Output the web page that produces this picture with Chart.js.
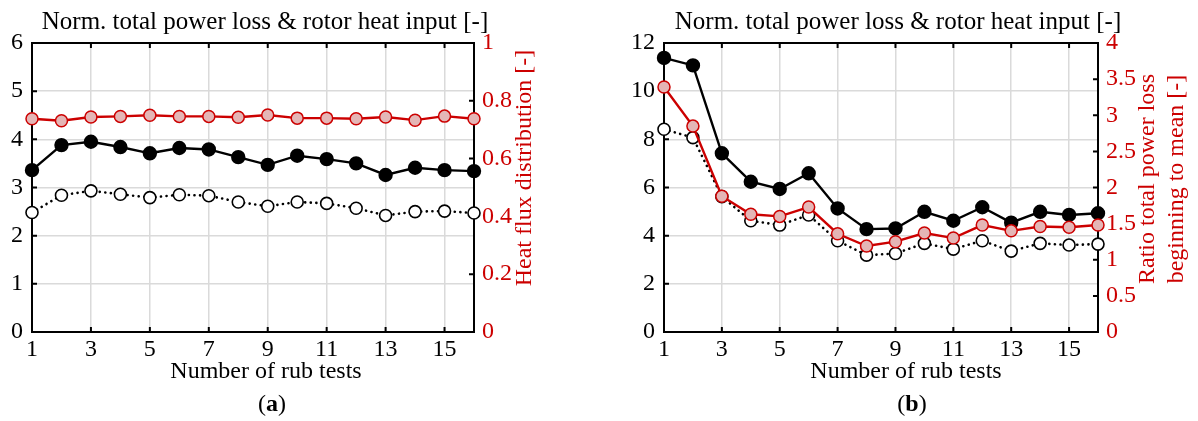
<!DOCTYPE html>
<html>
<head>
<meta charset="utf-8">
<script src="https://cdn.jsdelivr.net/npm/chart.js@4.4.1/dist/chart.umd.min.js"></script>
<style>
  body { margin: 0; background: #fff; }
  #wrap { position: relative; width: 1198px; height: 421px; }
  canvas { position: absolute; top: 0; }
</style>
</head>
<body>
<div id="wrap">
  <canvas id="chartA" width="600" height="421" style="left:0"></canvas>
  <canvas id="chartB" width="598" height="421" style="left:600px"></canvas>
</div>
<script>
// rub test number on the x axis
const rubTests = [1, 2, 3, 4, 5, 6, 7, 8, 9, 10, 11, 12, 13, 14, 15, 16]
const xTicks = [1, 3, 5, 7, 9, 11, 13, 15]

// (a) normalised total power loss, rotor heat input, heat flux distribution
const lossA = [3.36, 3.88, 3.95, 3.84, 3.71, 3.82, 3.79, 3.63, 3.47, 3.66, 3.59, 3.50, 3.26, 3.41, 3.36, 3.34]
const heatA = [2.48, 2.84, 2.93, 2.86, 2.79, 2.85, 2.83, 2.70, 2.61, 2.70, 2.67, 2.57, 2.42, 2.50, 2.51, 2.47]
const fluxA = [0.738, 0.731, 0.744, 0.746, 0.750, 0.746, 0.746, 0.743, 0.751, 0.740, 0.740, 0.738, 0.744, 0.733, 0.747, 0.738]
const yTicksA = [0, 1, 2, 3, 4, 5, 6]
const y2TicksA = [0, 0.2, 0.4, 0.6, 0.8, 1]

// (b) normalised total power loss, rotor heat input, ratio beginning to mean
const lossB = [11.38, 11.07, 7.42, 6.24, 5.94, 6.59, 5.13, 4.27, 4.30, 4.99, 4.62, 5.18, 4.54, 4.99, 4.86, 4.93]
const heatB = [8.42, 8.07, 5.62, 4.62, 4.44, 4.86, 3.79, 3.19, 3.26, 3.68, 3.44, 3.79, 3.36, 3.68, 3.61, 3.65]
const ratioB = [3.39, 2.85, 1.88, 1.63, 1.60, 1.73, 1.36, 1.19, 1.25, 1.37, 1.30, 1.48, 1.40, 1.46, 1.45, 1.48]
const yTicksB = [0, 2, 4, 6, 8, 10, 12]
const y2TicksB = [0, 0.5, 1, 1.5, 2, 2.5, 3, 3.5, 4]

const RED = '#cc0000'
const PINK = '#e4b6b6'
const GRID = '#dadada'
const FONT = "'Liberation Serif', 'Times New Roman', serif"
const FS = 24

Chart.defaults.font.family = FONT
Chart.defaults.font.size = FS
Chart.defaults.color = '#000'

const toXY = (ys) => ys.map((y, i) => ({ x: rubTests[i], y }))

// box around the plot + small inward tick marks, then the text labels
const framePlugin = {
    id: 'frame',
    beforeDatasetsDraw(chart) {
        const { ctx, chartArea: a, scales } = chart
        ctx.save()
        ctx.strokeStyle = '#000'
        ctx.lineWidth = 2
        ctx.beginPath()
        scales.x.ticks.forEach((t) => {
            const px = scales.x.getPixelForValue(t.value)
            ctx.moveTo(px, a.bottom)
            ctx.lineTo(px, a.bottom - 5)
            ctx.moveTo(px, a.top)
            ctx.lineTo(px, a.top + 5)
        })
        scales.y.ticks.forEach((t) => {
            const py = scales.y.getPixelForValue(t.value)
            ctx.moveTo(a.left, py)
            ctx.lineTo(a.left + 5, py)
        })
        scales.y2.ticks.forEach((t) => {
            const py = scales.y2.getPixelForValue(t.value)
            ctx.moveTo(a.right, py)
            ctx.lineTo(a.right - 5, py)
        })
        ctx.stroke()
        ctx.lineJoin = 'miter'
        ctx.strokeRect(a.left, a.top, a.right - a.left, a.bottom - a.top)
        ctx.restore()
    },
    afterDraw(chart, args, opts) {
        const { ctx } = chart
        ctx.save()
        ctx.textAlign = 'center'
        ctx.textBaseline = 'alphabetic'
        ctx.fillStyle = '#000'
        ctx.font = '25px ' + FONT
        ctx.fillText(opts.title, opts.titleX, 29)
        ctx.font = FS + 'px ' + FONT
        ctx.fillText('Number of rub tests', opts.xTitleX, 378)

        // caption like "(a)" with a bold letter
        const open = '(', close = ')'
        ctx.font = FS + 'px ' + FONT
        const wOpen = ctx.measureText(open).width
        const wClose = ctx.measureText(close).width
        ctx.font = 'bold ' + FS + 'px ' + FONT
        const wMid = ctx.measureText(opts.caption).width
        let cx = opts.captionX - (wOpen + wMid + wClose) / 2
        ctx.textAlign = 'left'
        ctx.font = FS + 'px ' + FONT
        ctx.fillText(open, cx, 411)
        ctx.font = 'bold ' + FS + 'px ' + FONT
        ctx.fillText(opts.caption, cx + wOpen, 411)
        ctx.font = FS + 'px ' + FONT
        ctx.fillText(close, cx + wOpen + wMid, 411)

        // right axis title, read bottom to top
        ctx.fillStyle = RED
        ctx.textAlign = 'center'
        opts.side.forEach((line, i) => {
            ctx.save()
            ctx.translate(opts.sideX[i], opts.sideY)
            ctx.rotate(-Math.PI / 2)
            ctx.fillText(line, 0, 0)
            ctx.restore()
        })
        ctx.restore()
    }
}

function makeChart(id, cfg) {
    const el = document.getElementById(id)
    return new Chart(el, {
        type: 'line',
        data: {
            datasets: [
                {
                    label: 'ratio',
                    data: toXY(cfg.red),
                    yAxisID: 'y2',
                    borderColor: RED,
                    borderWidth: 2.4,
                    pointBackgroundColor: PINK,
                    pointBorderColor: RED,
                    pointBorderWidth: 1.5,
                    pointRadius: 6
                },
                {
                    label: 'loss',
                    data: toXY(cfg.loss),
                    yAxisID: 'y',
                    borderColor: '#000',
                    borderWidth: 2.4,
                    pointBackgroundColor: '#000',
                    pointBorderColor: '#000',
                    pointRadius: 6
                },
                {
                    label: 'heat',
                    data: toXY(cfg.heat),
                    yAxisID: 'y',
                    borderColor: '#000',
                    borderWidth: 2.6,
                    borderCapStyle: 'round',
                    borderDash: [0.1, 5.5],
                    pointBackgroundColor: '#fff',
                    pointBorderColor: '#000',
                    pointBorderWidth: 1.6,
                    pointRadius: 6
                }
            ]
        },
        options: {
            responsive: false,
            animation: false,
            clip: false,
            layout: { padding: { top: 43, left: 0, right: 0, bottom: 0 } },
            plugins: {
                legend: { display: false },
                tooltip: { enabled: false },
                frame: cfg.labels
            },
            scales: {
                x: {
                    type: 'linear',
                    min: 1,
                    max: 16,
                    afterBuildTicks: (s) => { s.ticks = xTicks.map((v) => ({ value: v })) },
                    afterFit: (s) => { s.height = 89 },
                    grid: { color: GRID, lineWidth: 1.5, drawTicks: false },
                    border: { display: false },
                    ticks: { padding: 3, maxRotation: 0, autoSkip: false, callback: (v) => String(v) }
                },
                y: {
                    position: 'left',
                    min: cfg.yTicks[0],
                    max: cfg.yTicks[cfg.yTicks.length - 1],
                    afterBuildTicks: (s) => { s.ticks = cfg.yTicks.map((v) => ({ value: v })) },
                    afterFit: (s) => { s.width = cfg.leftW },
                    grid: { color: GRID, lineWidth: 1.5, drawTicks: false },
                    border: { display: false },
                    ticks: { padding: 9, callback: (v) => String(v) }
                },
                y2: {
                    position: 'right',
                    min: cfg.y2Ticks[0],
                    max: cfg.y2Ticks[cfg.y2Ticks.length - 1],
                    afterBuildTicks: (s) => { s.ticks = cfg.y2Ticks.map((v) => ({ value: v })) },
                    afterFit: (s) => { s.width = cfg.rightW },
                    grid: { display: false, drawTicks: false },
                    border: { display: false },
                    ticks: { color: RED, padding: 8, callback: (v) => String(v) }
                }
            }
        },
        plugins: [framePlugin]
    })
}

makeChart('chartA', {
    loss: lossA,
    heat: heatA,
    red: fluxA,
    yTicks: yTicksA,
    y2Ticks: y2TicksA,
    leftW: 32,
    rightW: 126,
    labels: {
        title: 'Norm. total power loss & rotor heat input [-]',
        titleX: 265,
        xTitleX: 266,
        caption: 'a',
        captionX: 272,
        side: ['Heat flux distribution [-]'],
        sideX: [531],
        sideY: 168
    }
})

makeChart('chartB', {
    loss: lossB,
    heat: heatB,
    red: ratioB,
    yTicks: yTicksB,
    y2Ticks: y2TicksB,
    leftW: 64,
    rightW: 100,
    labels: {
        title: 'Norm. total power loss & rotor heat input [-]',
        titleX: 298,
        xTitleX: 306,
        caption: 'b',
        captionX: 312,
        side: ['Ratio total power loss', 'beginning to mean [-]'],
        sideX: [554, 583],
        sideY: 179
    }
})
</script>
</body>
</html>
